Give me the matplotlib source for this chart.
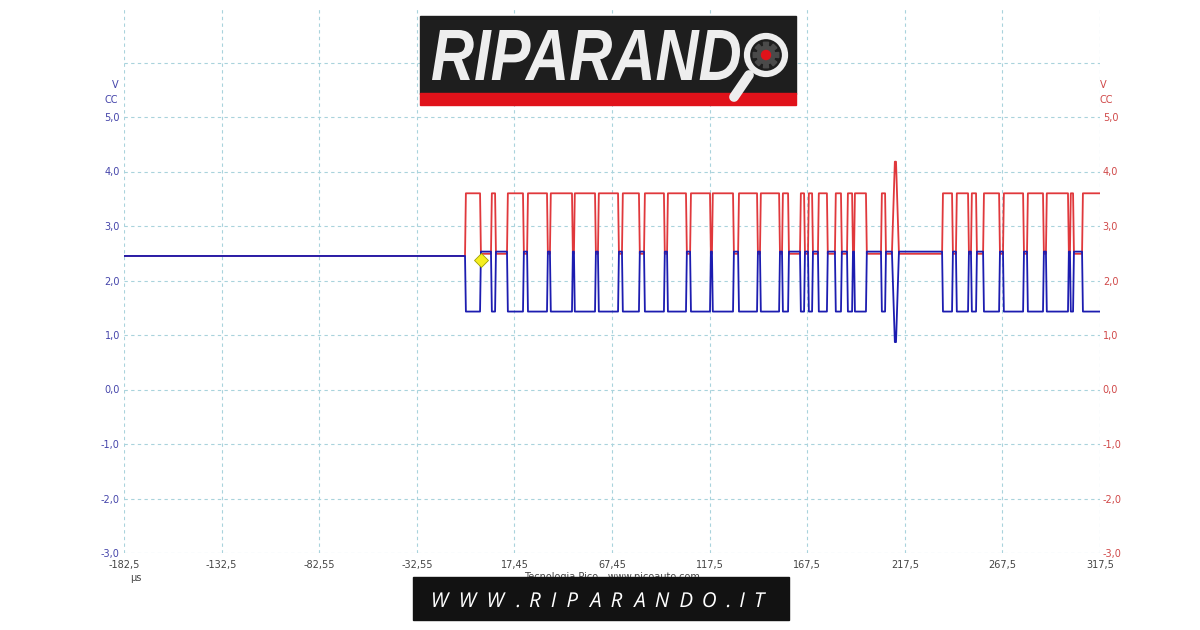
import numpy as np
import matplotlib.pyplot as plt
from matplotlib.patches import Rectangle, Circle, PathPatch, Polygon
from matplotlib.textpath import TextPath
from matplotlib.font_manager import FontProperties
from matplotlib.transforms import Affine2D

# Tempi di transizione (µs) e stato del bus per ogni segmento
edges = [-182.5, -7.8, -0.1, 5.5, 7.6, 13.7, 21.9, 24.0, 34.2, 35.7, 47.0,
         48.0, 58.8, 60.3, 70.6, 72.6, 81.3, 83.9, 94.1, 95.7, 105.4, 107.5,
         117.7, 118.7, 129.5, 132.1, 141.8, 143.3, 153.1, 154.6, 157.7, 163.8,
         165.9, 167.9, 170.0, 173.0, 177.6, 181.7, 184.8, 187.9, 190.5, 191.5,
         197.6, 205.3, 207.4, 210.9, 213.0, 236.6, 241.7, 243.7, 249.9, 251.4,
         254.0, 257.6, 265.8, 267.8, 278.1, 280.1, 288.3, 289.8, 301.1, 302.1,
         303.7, 308.3, 317.5]
states = ("I"
          "DRDRDRDRDRDRDRDRDRDRDR"
          "DRDRDRDRDRDRDRDRDRDRDR"
          "SR"
          "DRDRDRDRDRDRDRDRD")
# livelli (V) per stato: I=riposo, D=dominante, R=recessivo, S=picco
canh_level = {"I": 2.45, "D": 3.60, "R": 2.49, "S": 4.18}
canl_level = {"I": 2.45, "D": 1.43, "R": 2.53, "S": 0.87}

x_ticks = [-182.5, -132.5, -82.5, -32.5, 17.5, 67.5, 117.5, 167.5, 217.5, 267.5, 317.5]
x_labels = ["-182,5", "-132,5", "-82,55", "-32,55", "17,45", "67,45",
            "117,5", "167,5", "217,5", "267,5", "317,5"]
y_ticks = [-3, -2, -1, 0, 1, 2, 3, 4, 5]
y_labels = ["-3,0", "-2,0", "-1,0", "0,0", "1,0", "2,0", "3,0", "4,0", "5,0"]
trigger = (0.4, 2.37)

assert len(states) == len(edges) - 1

# costruzione forma d'onda a gradini
t, h, l = [], [], []
for i, s in enumerate(states):
    ramp = 0.0
    if i > 0:
        ramp = 1.5 if "S" in (s, states[i - 1]) else 0.45
    t += [edges[i] + ramp, edges[i + 1]]
    h += [canh_level[s]] * 2
    l += [canl_level[s]] * 2

blu = "#1c1cb0"
rosso = "#e0383c"
griglia = "#a9d3dc"

fig = plt.figure(figsize=(12, 6.3), dpi=100)
ax = fig.add_axes([124 / 1200, 77 / 630, 976 / 1200, 545 / 630])
ax.set_xlim(-182.5, 317.5)
ax.set_ylim(-3, 7)
for s in ax.spines.values():
    s.set_visible(False)
ax.set_xticks(x_ticks)
ax.set_xticklabels(x_labels, fontsize=7, color="#444444")
ax.set_yticks(range(-3, 7))
ax.set_yticklabels(y_labels + [""], fontsize=7, color="#4444aa")
ax.tick_params(length=0, pad=3)
ax.tick_params(axis="x", pad=5)
ax.grid(True, color=griglia, linestyle=(0, (3, 3)), linewidth=0.8)
ax.set_axisbelow(True)

ax2 = ax.twinx()
ax2.set_ylim(-3, 7)
for s in ax2.spines.values():
    s.set_visible(False)
ax2.set_yticks(y_ticks)
ax2.set_yticklabels(y_labels, fontsize=7, color="#d04848")
ax2.tick_params(length=0, pad=2)

ax.plot(t, h, color=rosso, linewidth=1.3, zorder=3)
ax.plot(t, l, color=blu, linewidth=1.3, zorder=4)
ax.plot(*trigger, marker="D", markersize=7, color="#f5ee20",
        markeredgecolor="#a0a000", markeredgewidth=0.6, zorder=5)

# etichette unità
for tx, col, ha in [(-0.006, "#4444aa", "right"), (1.0, "#d04848", "left")]:
    ax.text(tx, 5.58, "V", transform=ax.get_yaxis_transform(), fontsize=7,
            color=col, ha=ha, va="center")
    ax.text(tx, 5.32, "CC", transform=ax.get_yaxis_transform(), fontsize=7,
            color=col, ha=ha, va="center")
ax.text(0.006, -0.037, "µs", transform=ax.transAxes, fontsize=7, color="#444444",
        ha="left", va="top")
ax.text(0.5, -0.034, "Tecnologia Pico - www.picoauto.com", transform=ax.transAxes,
        fontsize=7, color="#444444", ha="center", va="top")

# sovrapposizione: logo e riquadro inferiore (coordinate in pixel)
ov = fig.add_axes([0, 0, 1, 1], zorder=10)
ov.set_xlim(0, 1200)
ov.set_ylim(630, 0)
ov.axis("off")

ov.add_patch(Rectangle((420, 16), 376, 78, color="#1e1e1e"))
ov.add_patch(Rectangle((420, 93), 376, 12, color="#e0121a"))

fp = FontProperties(family="Liberation Sans", weight="bold", style="italic")
tp = TextPath((0, 0), "RIPARAND", size=1, prop=fp)
bb = tp.get_extents()
sx = (740 - 432) / bb.width
sy = 50 / bb.height
tr = Affine2D().translate(-bb.x0, -bb.y0).scale(sx, -sy).translate(432, 80)
ov.add_patch(PathPatch(tr.transform_path(tp), color="#eeeeee", linewidth=0))

# lente con ingranaggio
ov.plot([749, 734], [75, 97], color="#eeeeee", linewidth=7, solid_capstyle="round")
ov.add_patch(Circle((766, 55), 19, facecolor="#1e1e1e", edgecolor="#eeeeee", linewidth=4.5))
ang = np.linspace(0, 2 * np.pi, 8, endpoint=False)
for a in ang:
    ov.add_patch(Polygon([(766 + 8 * np.cos(a - 0.25), 55 + 8 * np.sin(a - 0.25)),
                          (766 + 13 * np.cos(a - 0.2), 55 + 13 * np.sin(a - 0.2)),
                          (766 + 13 * np.cos(a + 0.2), 55 + 13 * np.sin(a + 0.2)),
                          (766 + 8 * np.cos(a + 0.25), 55 + 8 * np.sin(a + 0.25))],
                         color="#4a4a4a"))
ov.add_patch(Circle((766, 55), 9, color="#4a4a4a"))
ov.add_patch(Circle((766, 55), 4.5, color="#e0121a"))

# riquadro con indirizzo, lettere spaziate in modo uniforme
ov.add_patch(Rectangle((413, 577), 376, 43, color="#121212"))
sito = "WWW.RIPARANDO.IT"
fp2 = FontProperties(family="Open Sans", style="italic")
glifi = [TextPath((0, 0), ch, size=20.5, prop=fp2) for ch in sito]
larghezze = [g.get_extents().width for g in glifi]
spazio = (333 - sum(larghezze)) / (len(sito) - 1)
x = 433.0
for g, w in zip(glifi, larghezze):
    e = g.get_extents()
    tr = Affine2D().translate(-e.x0, 0).scale(1, -1).translate(x, 607)
    ov.add_patch(PathPatch(tr.transform_path(g), color="white", linewidth=0))
    x += w + spazio

fig.savefig("out.png", dpi=100, facecolor="white")
